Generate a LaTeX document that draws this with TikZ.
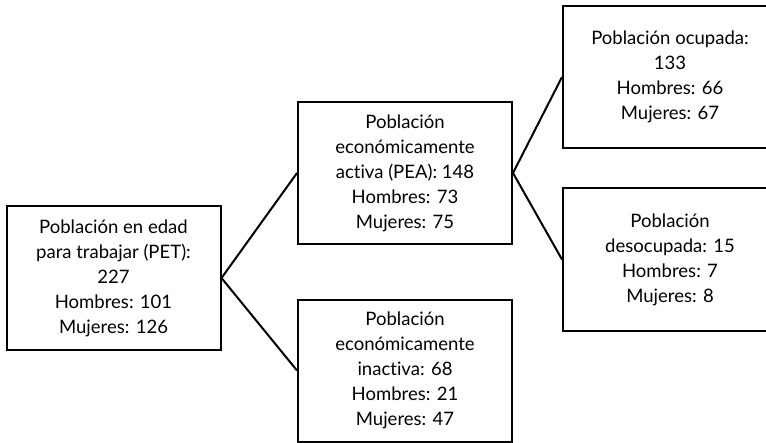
\documentclass[tikz,border=0pt]{standalone}
\usepackage{fontspec}
\setmainfont{Lato}[Ligatures=NoCommon]
\usepackage{tikz}
\usetikzlibrary{positioning}

\tikzset{
  popbox/.style={draw, line width=1.5pt, minimum width=160.5pt, minimum height=106.5pt,
    align=center, inner sep=0pt, font=\fontsize{13.9}{18.75}\selectfont},
  link/.style={line width=1.5pt}
}

\begin{document}
\begin{tikzpicture}[x=0.75pt, y=-0.75pt]

\path[use as bounding box, clip] (0,0) rectangle (766,442);

% Working-age population
\node[popbox, minimum height=108pt] (pet) at (113.5,278) {Población en edad\\para trabajar (PET):\\227\\Hombres: 101\\Mujeres: 126};

% Active and inactive
\node[popbox] (pea) at (405,173) {Población\\económicamente\\activa (PEA): 148\\Hombres: 73\\Mujeres: 75};
\node[popbox] (pei) at (405,370.5) {Población\\económicamente\\inactiva: 68\\Hombres: 21\\Mujeres: 47};

% Employed and unemployed
\node[popbox] (ocu) at (670,77) {Población ocupada:\\133\\Hombres: 66\\Mujeres: 67};
\node[popbox, minimum height=107pt] (des) at (670,259.5) {Población\\desocupada: 15\\Hombres: 7\\Mujeres: 8};

% Branches
\draw[link] (pet.east) -- (pea.west);
\draw[link] (pet.east) -- (pei.west);
\draw[link] (pea.east) -- (ocu.west);
\draw[link] (pea.east) -- (des.west);

\end{tikzpicture}
\end{document}
